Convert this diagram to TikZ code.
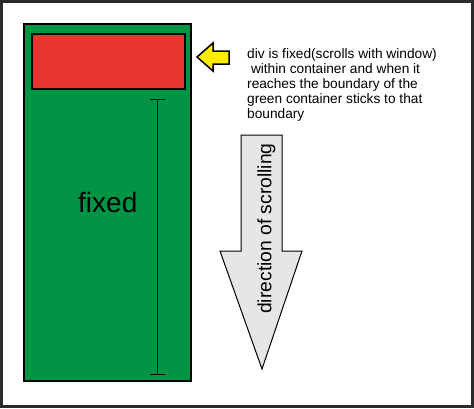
\documentclass[tikz,border=0pt]{standalone}
\usepackage{fontspec}
\usepackage{graphicx}
\setmainfont{Liberation Sans}
\definecolor{frame}{HTML}{2B2B2B}
\definecolor{contgreen}{HTML}{009444}
\definecolor{divred}{HTML}{E8332E}
\definecolor{arrowyellow}{HTML}{FFEC00}
\definecolor{arrowgray}{HTML}{E6E6E6}
\begin{document}
\begin{tikzpicture}[x=1pt,y=-1pt,
  box/.style={draw=black,line width=1.5pt},
  desc/.style={anchor=base west,inner sep=0pt,font=\fontsize{13.7}{15}\selectfont},
  dimline/.style={draw=black,line width=1pt}]
\useasboundingbox (0,0) rectangle (474,408);
\fill[white] (0,0) rectangle (474,408);
\draw[frame,line width=3pt] (1.5,1.5) rectangle (472.5,406.5);
% container
\draw[box,fill=contgreen] (24,24) rectangle (191,381);
\node[box,fill=divred,inner sep=0pt,minimum width=153pt,minimum height=55pt,anchor=north west] (div) at (31,33) {};
% fixed label
\node[anchor=base west,inner sep=0pt,font=\fontsize{28}{30}\selectfont] (fixed) at (78,212) {fixed};
% dimension line
\coordinate (dtop) at (157,99);
\coordinate (dbot) at (157,374);
\draw[dimline] (dtop) -- (dbot);
\draw[dimline] (150,99) -- (165,99);
\draw[dimline] (150,374) -- (165,374);
% yellow arrow
\draw[fill=arrowyellow,line width=1.5pt,line join=miter] (197,57) -- (213,43) -- (213,51) -- (229,51) -- (229,64) -- (213,64) -- (213,71) -- cycle;
% description
\node[desc] (t1) at (247,58) {div is fixed(scrolls with window)};
\node[desc] (t2) at (247,73) {\hspace*{3.8pt}within container and when it};
\node[desc] (t3) at (247,88) {reaches the boundary of the};
\node[desc] (t4) at (247,103) {green container sticks to that};
\node[desc] (t5) at (247,118) {boundary};
% direction arrow
\draw[fill=arrowgray,line width=1pt,line join=miter] (241,135) -- (282,135) -- (282,251) -- (302,251) -- (262,369) -- (220,251) -- (241,251) -- cycle;
\node[anchor=center,inner sep=0pt,font=\fontsize{19.3}{21}\selectfont] (dir) at (266.3,228.5) {\rotatebox{90}{direction of scrolling}};
\end{tikzpicture}
\end{document}
